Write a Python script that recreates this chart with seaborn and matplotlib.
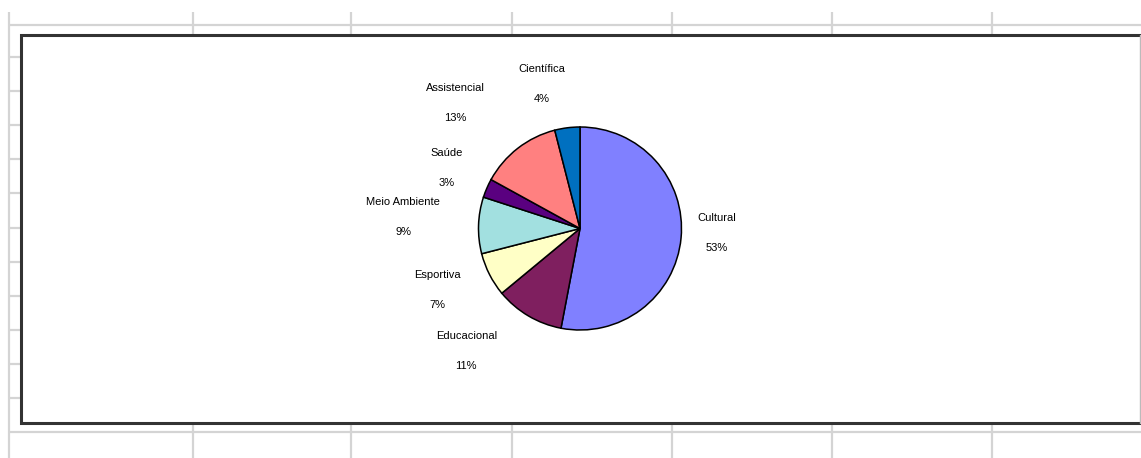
import matplotlib
matplotlib.use("Agg")
import matplotlib.pyplot as plt
import seaborn as sns
import numpy as np
from matplotlib.lines import Line2D
from matplotlib.patches import Rectangle

sns.set_theme(style="white")
plt.rcParams["font.family"] = ["Liberation Sans", "DejaVu Sans"]

# Areas of activity and their shares (%)
categories = ["Cultural", "Educacional", "Esportiva", "Meio Ambiente",
              "Saúde", "Assistencial", "Científica"]
shares = [53, 11, 7, 9, 3, 13, 4]
colors = ["#8080FF", "#7F1F5F", "#FFFFC6", "#A2E0E0",
          "#5A0080", "#FF8080", "#0070C0"]

# Label block centres, in pie radii relative to the pie centre (x right, y up)
label_offsets = [(1.35, -0.04), (-1.12, -1.21), (-1.40, -0.61),
                 (-1.74, 0.11), (-1.31, 0.60), (-1.23, 1.24), (-0.38, 1.42)]

W, H = 1141, 458
fig = plt.figure(figsize=(W / 100, H / 100), dpi=100)
fig.patch.set_facecolor("white")

# Axes in pixel units, y pointing up
ax = fig.add_axes([0, 0, 1, 1])
ax.set_xlim(0, W)
ax.set_ylim(0, H)
ax.set_axis_off()

def py(y):
    return H - y

grid_kw = dict(color="#D4D4D4", lw=1.6, zorder=0, solid_capstyle="butt")
# spreadsheet cell grid behind the chart
for x in [9, 193, 351, 512, 672, 832, 992]:
    ax.add_line(Line2D([x, x], [py(12), py(458)], **grid_kw))
for y in [25, 432]:
    ax.add_line(Line2D([9, W], [py(y), py(y)], **grid_kw))
for y in [57, 91, 125, 159, 193, 228, 262, 296, 330, 364, 398]:
    ax.add_line(Line2D([9, 21], [py(y), py(y)], **grid_kw))

# chart area frame
ax.add_patch(Rectangle((21, py(423)), W - 21 + 5, 423 - 35,
                       facecolor="white", edgecolor="#333333", lw=2.2, zorder=1))
ax.add_line(Line2D([W - 1, W - 1], [py(35), py(423)], color="#BBBBBB", lw=1, zorder=2))

cx, cy, r = 580, py(228.5), 101.5
wedges, _ = ax.pie(shares, colors=colors, startangle=90, counterclock=False,
                   center=(cx, cy), radius=r, frame=True,
                   wedgeprops=dict(edgecolor="black", linewidth=1.1, zorder=3))
ax.set_xlim(0, W)
ax.set_ylim(0, H)
ax.set_axis_off()

for name, val, (ox, oy) in zip(categories, shares, label_offsets):
    tx, ty = cx + ox * r, cy + oy * r
    ax.text(tx, ty + 15, name, ha="center", va="center", fontsize=8,
            color="black", zorder=4)
    ax.text(tx, ty - 15, f"{val}%", ha="center", va="center", fontsize=8,
            color="black", zorder=4)

fig.savefig("out.png", dpi=100, facecolor="white")
